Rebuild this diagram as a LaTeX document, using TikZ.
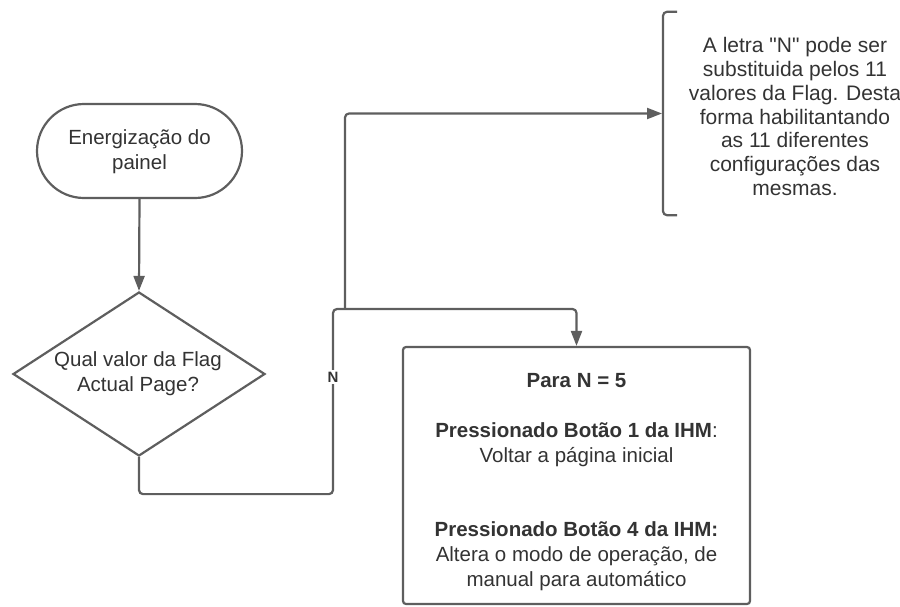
\documentclass[tikz,border=0pt]{standalone}
\usepackage{fontspec}
\setmainfont{Liberation Sans}[Ligatures=TeXOff]
\usetikzlibrary{arrows.meta,shapes.geometric}
\definecolor{linegray}{HTML}{5E5E5E}
\definecolor{textgray}{HTML}{333333}
\tikzset{
  shapeline/.style={draw=linegray, line width=2.2pt, fill=white},
  conn/.style={draw=linegray, line width=2.2pt, rounded corners=4pt},
  arrowed/.style={conn, -{Triangle[length=15pt,width=11pt]}},
  body/.style={text=textgray, font=\fontsize{20.5}{24.8}\selectfont, align=center, inner sep=0pt},
  notebody/.style={body, font=\fontsize{21}{23.8}\selectfont},
  flaglabel/.style={text=textgray, font=\fontsize{15}{17}\selectfont\bfseries, fill=white, inner sep=1.5pt}
}
\begin{document}
\begin{tikzpicture}[x=1pt,y=-1pt]
  \useasboundingbox (0,0) rectangle (900,606);

  % start terminal
  \node[shapeline, rounded corners=47pt, minimum width=205pt, minimum height=94pt] (inicio) at (139.5,151) {};
  \node[body] (iniciotxt) at (139.5,152) {Energização do\\painel};

  % decision
  \node[shapeline, diamond, minimum width=252pt, minimum height=164pt, inner sep=0pt] (flag) at (139,374) {};
  \node[body] (flagtxt) at (138,373.5) {Qual valor da Flag\\Actual Page?};

  % action box
  \node[shapeline, rounded corners=3pt, minimum width=347pt, minimum height=257pt, inner sep=0pt] (acao) at (576.5,475.5) {};
  \node[body] (acaotxt) at (576.5,482) {\textbf{Para N = 5}\\[24.8pt]
    \textbf{Pressionado Botão 1 da IHM}:\\
    Voltar a página inicial\\[49.6pt]
    \textbf{Pressionado Botão 4 da IHM:}\\
    Altera o modo de operação, de\\
    manual para automático};

  % annotation bracket
  \node[minimum width=264pt, minimum height=203pt, inner sep=0pt, anchor=west] (nota) at (663,113.5) {};
  \draw[conn] ([xshift=14pt]nota.north west) -- (nota.north west) -- (nota.south west) -- ([xshift=14pt]nota.south west);
  \node[notebody] (notatxt) at (795,116.5) {A letra "N" pode ser\\
    substituida pelos 11\\
    valores da Flag. Desta\\
    forma habilitantando\\
    as 11 diferentes\\
    configurações das\\
    mesmas.};

  % junction points of the branch
  \coordinate (jN) at (333,309);
  \coordinate (jT) at (345,309);

  % connectors
  \draw[arrowed] (inicio.south) -- (flag.north);
  \draw[arrowed] (flag.south) -- ++(0,37) -| (jN) -| (acao.north);
  \draw[arrowed, shorten >=1pt] (jT) |- (nota.west);
  \node[flaglabel] (nlabel) at (333,377) {N};
\end{tikzpicture}
\end{document}
